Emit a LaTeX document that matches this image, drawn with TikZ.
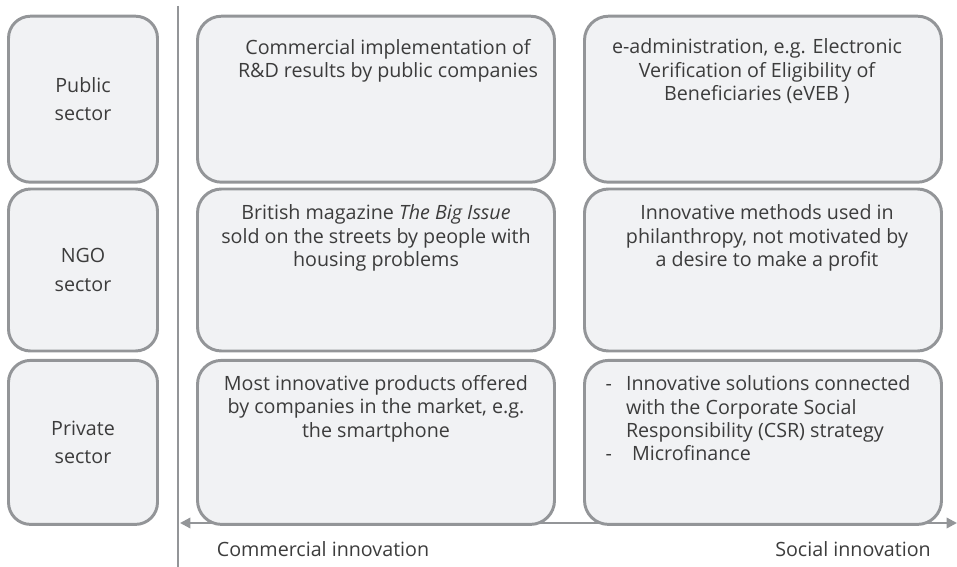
\documentclass[tikz,border=0pt]{standalone}
\usepackage{fontspec}
\setmainfont{Open Sans}
\usetikzlibrary{positioning,arrows.meta}
\definecolor{boxfill}{HTML}{F1F2F4}
\definecolor{boxline}{HTML}{939598}
\definecolor{ink}{HTML}{3C3C3C}

\begin{document}
\begin{tikzpicture}[
font=\fontsize{14}{16.5}\selectfont,
text=ink,
sectorbox/.style={
draw=boxline,
fill=boxfill,
line width=2.1pt,
rounded corners=0.55cm,
minimum width=3.725cm,
align=center,
font=\fontsize{14}{20.5}\selectfont
},
ideabox/.style={
draw=boxline,
fill=boxfill,
line width=2.1pt,
rounded corners=0.6cm,
minimum width=8.925cm
},
ideatext/.style={
align=center,
inner sep=0pt
},
axislabel/.style={inner sep=0pt}
]

\useasboundingbox (0,0) rectangle (23.925,-14.175);

% axes
\coordinate (top) at (4.45,-0.15);
\coordinate (bottom) at (4.45,-14.175);
\coordinate (commend) at (4.5,-13.075);
\coordinate (socend) at (23.925,-13.075);

\draw[boxline, line width=1.6pt] (top)--(bottom);
\draw[boxline, line width=1.6pt, {Triangle[length=2.6mm,width=2.6mm]}-{Triangle[length=2.6mm,width=2.6mm]}] (commend)--(socend);

% sectors
\node[sectorbox, minimum height=4.15cm] (pub) at (2.075,-2.48) {Public\\sector};

\node[sectorbox, minimum height=4.05cm] (ngo) at (2.075,-6.75) {NGO\\sector};

\node[sectorbox, minimum height=4.1cm] (priv) at (2.075,-11.06) {Private\\sector};

% commercial column
\node[ideabox, minimum height=4.15cm] (pubcom) at (9.4,-2.48) {};
\node[ideatext, below=0.6cm of pubcom.north, xshift=0.3cm] (pubcomtxt)
{Commercial implementation of\\R\&D results by public companies};

\node[ideabox, minimum height=4.05cm] (ngocom) at (9.4,-6.75) {};
\node[ideatext, below=0.43cm of ngocom.north] (ngocomtxt)
{British magazine \textit{The Big Issue}\\sold on the streets by people with\\housing problems};

\node[ideabox, minimum height=4.1cm] (privcom) at (9.4,-11.06) {};
\node[ideatext, below=0.41cm of privcom.north] (privcomtxt)
{Most innovative products offered\\by companies in the market, e.g.\\the smartphone};

% social column
\node[ideabox, minimum height=4.15cm] (pubsoc) at (19.075,-2.48) {};
\node[ideatext, below=0.6cm of pubsoc.north, xshift=-0.15cm] (pubsoctxt)
{e-administration, e.g. Electronic\\Verification of Eligibility of\\Beneficiaries (eVEB )};

\node[ideabox, minimum height=4.05cm] (ngosoc) at (19.075,-6.75) {};
\node[ideatext, below=0.43cm of ngosoc.north, xshift=0.1cm] (ngosoctxt)
{Innovative methods used in\\philanthropy, not motivated by\\a desire to make a profit};

\node[ideabox, minimum height=4.1cm] (privsoc) at (19.075,-11.06) {};
\node[ideatext, align=left, below right=0.42cm and 0.56cm of privsoc.north west] (privsoctxt)
{-\hspace{3.5mm}Innovative solutions connected\\
\phantom{-}\hspace{3.5mm}with the Corporate Social\\
\phantom{-}\hspace{3.5mm}Responsibility (CSR) strategy\\
-\hspace{5mm}Microfinance};

% axis labels
\node[axislabel] (comlabel) at (8.075,-13.725) {Commercial innovation};
\node[axislabel] (soclabel) at (21.325,-13.725) {Social innovation};

\end{tikzpicture}
\end{document}
